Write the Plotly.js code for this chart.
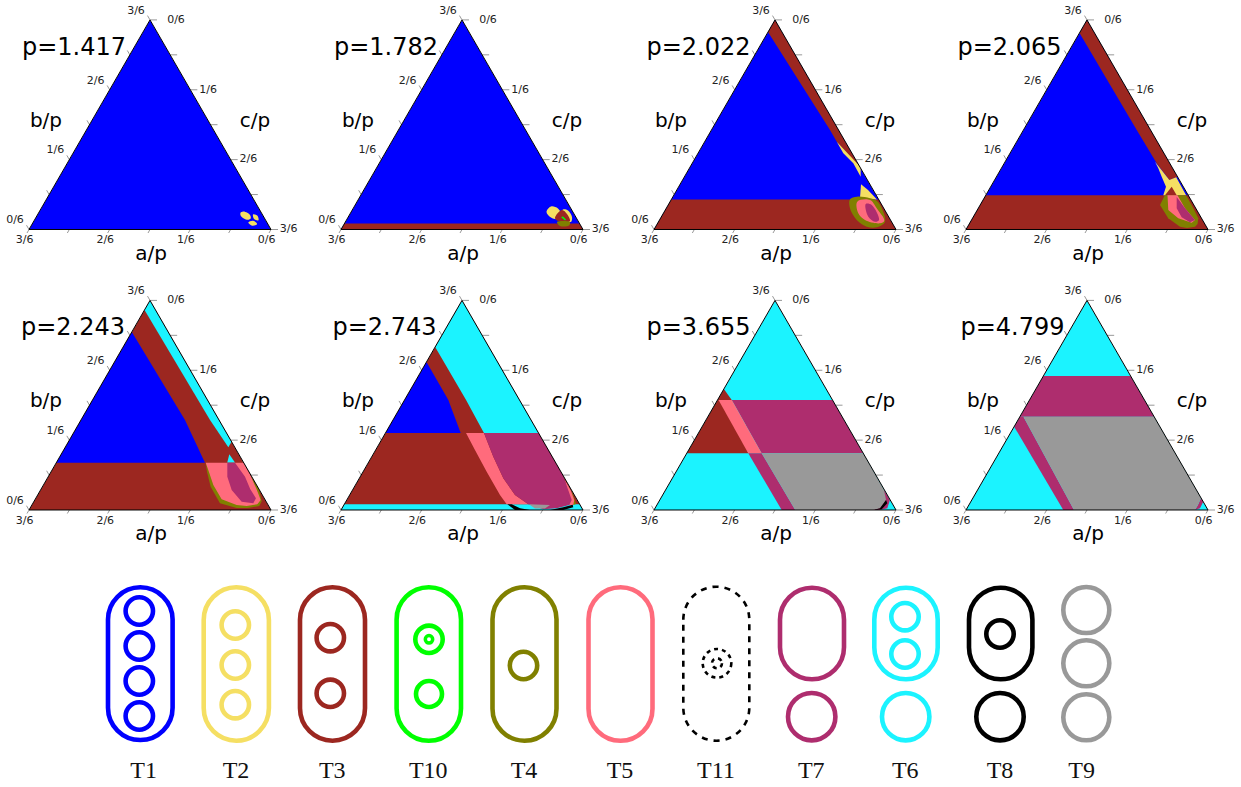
<!DOCTYPE html>
<html><head><meta charset="utf-8"><script src="https://cdn.plot.ly/plotly-3.0.1.min.js"></script>
<style>html,body{margin:0;padding:0;background:#fff}</style></head><body><div id="g" style="width:1241px;height:787px"></div>
<script>
// Phase colours
const COL={T1:'#0000ff',T2:'#f5df63',T3:'#9c2720',T10:'#00ff00',T4:'#808000',T5:'#ff6b7c',T11:'#000000',T7:'#ae2d6e',T6:'#1bf3ff',T8:'#000000',T9:'#999999'};
// Panel labels
const pLabels=['p=1.417','p=1.782','p=2.022','p=2.065','p=2.243','p=2.743','p=3.655','p=4.799'];
const tickVals=[0,1/12,2/12,3/12,4/12,5/12,6/12];
const tickText=['0/6','','1/6','','2/6','','3/6'];
// Regions as [b/p, c/p] vertices
const FULL=[[.5,0],[0,0],[0,.5],[.5,0]];
const P1_E1=[[.026,.445],[.033,.441],[.040,.431],[.043,.421],[.040,.417],[.033,.421],[.026,.431],[.023,.441],[.026,.445]];
const P1_E2=[[.022,.463],[.033,.4555],[.036,.445],[.025,.4525],[.022,.463]];
const P1_E3=[[.0129,.4649],[.0207,.4528],[.0167,.4447],[.0089,.4568],[.0129,.4649]];
const P2_STRIP=[[0,0],[.0145,0],[.0145,.4855],[0,.5],[0,0]];
const P2_Y1=[[.0549,.4065],[.0501,.4232],[.037,.436],[.0251,.4358],[.0286,.4196],[.0418,.4037],[.0549,.4065]];
const P2_Y2=[[.0477,.4348],[.0454,.4463],[.0298,.4624],[.0179,.4662],[.0227,.4536],[.037,.436],[.0477,.4348]];
const P2_BR=[[.0275,.4284],[.0465,.4333],[.037,.4484],[.0203,.463],[.0179,.4559],[.0203,.4382],[.0275,.4284]];
const P2_G=[[.0298,.4396],[.031,.4432],[.0239,.453],[.0215,.4521],[.0298,.4396]];
const P2_OL=[[.0179,.4373],[.0179,.4641],[.0095,.4663],[.0084,.4483],[.0179,.4373]];
const P3_BAND=[[0,0],[.0716,0],[.0716,.4284],[0,.5],[0,0]];
const P3_STRIP=[[.5,0],[.471,0],[.2375,.2449],[.2096,.2728],[.142,.358],[.5,0]];
const P3_Y1=[[.2096,.2728],[.1485,.3528],[.126,.364],[.158,.3328],[.1819,.3002],[.2096,.2728]];
const P3_Y2=[[.1079,.3738],[.0943,.395],[.0716,.4249],[.0752,.388],[.1079,.3738]];
const P3_OL=[[.0721,.3689],[.0783,.3803],[.0745,.4091],[.0656,.43],[.0186,.468],[.0053,.4575],[.0067,.4361],[.0227,.4075],[.0506,.3796],[.0721,.3689]];
const P3_PK=[[.0664,.3868],[.0704,.4111],[.0506,.4348],[.021,.4653],[.0148,.4595],[.0227,.4246],[.0387,.4028],[.0664,.3868]];
const P3_MG=[[.0609,.407],[.0585,.4206],[.0227,.4536],[.0186,.4473],[.0306,.4275],[.0609,.407]];
const P4_BAND=[[0,0],[.0816,0],[.0816,.4184],[0,.5],[0,0]];
const P4_STRIP=[[.5,0],[.469,0],[.2375,.234],[.158,.315],[.1182,.361],[.126,.374],[.5,0]];
const P4_Y=[[.1618,.3096],[.1182,.361],[.1246,.372],[.0816,.414],[.0816,.3668],[.1022,.3621],[.126,.3413],[.1461,.3243],[.1618,.3096]];
const P4_BR=[[.0816,.3703],[.1022,.3739],[.0816,.3945],[.0816,.3703]];
const P4_OL=[[.0816,.37],[.0816,.414],[.05,.445],[.0267,.4665],[.013,.472],[.0067,.4698],[.0035,.455],[.0067,.4388],[.0267,.4045],[.0585,.3716],[.0816,.37]];
const P4_PK=[[.0816,.3755],[.0816,.3962],[.0506,.4272],[.0227,.4618],[.0162,.4582],[.0267,.4252],[.0465,.3947],[.0816,.3755]];
const P4_MG=[[.0776,.3965],[.0506,.4272],[.0227,.4618],[.0172,.4542],[.0291,.431],[.0506,.41],[.0776,.3965]];
const P5_BLUE=[[.4249,0],[.2148,.2149],[.1129,.3071],[.1129,0],[.4249,0]];
const P5_CY1=[[.5,0],[.4774,0],[.2148,.2666],[.1497,.337],[.163,.337],[.5,0]];
const P5_CY2=[[.133,.3473],[.1134,.3689],[.1134,.353],[.133,.3473]];
const P5_OL=[[.1129,.3087],[.0795,.419],[.05,.4495],[.0215,.4701],[.0095,.471],[.005,.45],[.0048,.4267],[.016,.3866],[.0556,.3476],[.09,.323],[.1129,.3087]];
const P5_PK=[[.1129,.3087],[.1129,.3878],[.0795,.419],[.05,.445],[.0239,.4668],[.0136,.4649],[.0095,.445],[.0119,.4231],[.0255,.3853],[.0597,.351],[.09,.327],[.1129,.3087]];
const P5_MG=[[.1129,.3533],[.1129,.3692],[.0795,.4066],[.05,.432],[.0279,.455],[.016,.4554],[.0198,.4295],[.0477,.3949],[.0795,.37],[.1129,.3533]];
const P6_BOT=[[0,0],[.0136,0],[.0136,.4864],[0,.5],[0,0]];
const P6_CY=[[.5,0],[.3891,0],[.2626,.1271],[.1838,.2035],[.1838,.3162],[.5,0]];
const P6_BLUE=[[.3533,0],[.2626,.0905],[.1838,.1554],[.1838,0],[.3533,0]];
const P6_PK=[[.1838,.1664],[.1838,.2035],[.1272,.2511],[.0757,.2975],[.0358,.3416],[.0136,.3802],[.0136,.3355],[.0358,.3106],[.0914,.2553],[.1432,.2052],[.1838,.1664]];
const P6_OL=[[.0461,.4536],[.0143,.4783],[.0119,.4739],[.0461,.4536]];
const P6_PK2=[[.0716,.427],[.0461,.452],[.0239,.47],[.0119,.4739],[.0119,.4657],[.0716,.427]];
const P6_MG=[[.1838,.2035],[.1838,.3162],[.0812,.4188],[.0239,.4647],[.0119,.4657],[.0041,.4436],[.0017,.4172],[.0136,.3802],[.0358,.3416],[.0757,.2975],[.1272,.2511],[.1838,.2035]];
const P6_GR=[[.0136,.3816],[.0119,.4258],[.0036,.4197],[.0036,.399],[.0136,.3816]];
const P6_BK1=[[.0136,.3368],[.0136,.3459],[.0041,.3678],[0,.3905],[0,.3595],[.0136,.3368]];
const P6_BK2=[[0,.4318],[.0064,.4561],[.0127,.4724],[.0064,.4767],[0,.4593],[0,.4318]];
const P7_BR=[[.2888,0],[.2626,.0293],[.1353,.1271],[.1353,0],[.2888,0]];
const P7_PK=[[.2626,.002],[.2626,.0293],[.1353,.1548],[.1353,.1271],[.2626,.002]];
const P7_MG1=[[.2626,.0293],[.2626,.2374],[.1353,.3647],[.1353,.1548],[.2626,.0293]];
const P7_MG2=[[.1353,.1271],[.1353,.1548],[0,.2919],[0,.2638],[.1353,.1271]];
const P7_MG3=[[.0477,.4515],[.0239,.4755],[.0041,.48],[0,.467],[0,.45],[.0477,.4515]];
const P7_GR=[[.1353,.1548],[.1353,.3647],[.0477,.4515],[.0239,.4674],[.0041,.4649],[0,.4531],[0,.2919],[.1353,.1548]];
const P7_BK=[[.0239,.4674],[.016,.474],[.0017,.4696],[0,.4531],[.0041,.4649],[.0239,.4674]];
const P8_BAND=[[.3198,0],[.3198,.1802],[.2227,.2773],[.2227,0],[.3198,0]];
const P8_STRIP=[[.2227,0],[.2227,.0074],[0,.2231],[0,.201],[.1988,0],[.2227,0]];
const P8_GR=[[.2227,.0074],[.2227,.2773],[.0286,.4714],[.0119,.4733],[0,.4731],[0,.2231],[.2227,.0074]];
const P8_MG=[[.0286,.4714],[.0198,.4802],[.0041,.4815],[0,.473],[.0119,.4733],[.0286,.4714]];
// Panel stacks: [phase, vertices, smooth]
const panels=[
 [['T1',FULL],['T2',P1_E1,1],['T2',P1_E2,1],['T2',P1_E3,1]],
 [['T1',FULL],['T3',P2_STRIP],['T2',P2_Y1,1],['T2',P2_Y2,1],['T3',P2_BR,1],['T4',P2_OL,1],['T10',P2_G]],
 [['T1',FULL],['T3',P3_BAND],['T3',P3_STRIP],['T2',P3_Y1],['T2',P3_Y2],['T4',P3_OL,1],['T5',P3_PK,1],['T7',P3_MG,1]],
 [['T1',FULL],['T3',P4_BAND],['T3',P4_STRIP],['T2',P4_Y],['T3',P4_BR],['T4',P4_OL],['T5',P4_PK],['T7',P4_MG]],
 [['T3',FULL],['T1',P5_BLUE],['T6',P5_CY1],['T4',P5_OL],['T5',P5_PK],['T6',P5_CY2],['T7',P5_MG]],
 [['T3',FULL],['T6',P6_BOT],['T6',P6_CY],['T1',P6_BLUE],['T5',P6_PK],['T4',P6_OL],['T5',P6_PK2],['T7',P6_MG],['T9',P6_GR],['T8',P6_BK1],['T8',P6_BK2]],
 [['T6',FULL],['T3',P7_BR],['T7',P7_MG1],['T5',P7_PK],['T7',P7_MG2],['T7',P7_MG3],['T9',P7_GR],['T8',P7_BK]],
 [['T6',FULL],['T7',P8_BAND],['T7',P8_STRIP],['T7',P8_MG],['T9',P8_GR]]
];
// Triangle frames in page pixels: left, bottom
const frameL=[29,341,654,966,29,341,654,966];
const frameB=[229.5,229.5,229.5,229.5,510,510,510,510];
const triW=242,triH=209.6;
// Text positions
const pLabelX=[74,386,698.5,1009.5,73,384.5,698.5,1012.5];
const pLabelY=[48.5,48.5,48.5,48.5,328.5,328.5,328.5,328.5];
const axNames=['a/p','b/p','c/p'];
const axDX=[122,17,226], axDY=[25,-108,-108];
// Tick vectors and label offsets in pixels
const tickLeft=[-2.5,-4.3],tickRight=[7,0],tickBottom=[-2,3.5];
const lblLeft=[-14,-9],lblRight=[17.7,0],lblRightTop=[26,0],lblBottom=[-4.4,11];
// Legend glyphs
const legNames=['T1','T2','T3','T10','T4','T5','T11','T7','T6','T8','T9'];
const legNameX=[143.7,236,332.3,428.3,524,620,716,811.3,905.3,1000,1081.7];
const legStadium=[ // phase, cx, halfWidth, top, bottom
 ['T1',140.3,32.3,587.3,740],['T2',236.3,32.6,587.3,740.7],['T3',332.5,32.5,587.3,740.7],['T10',428.8,32.2,587.3,740.7],
 ['T4',524.5,32,587.3,740.7],['T5',620.5,32,587.3,740.7],['T11',716.3,33,586.7,740.7],
 ['T7',812,32,587.7,679.3],['T6',906,31.7,587.7,679.3],['T8',1000.7,31.7,587.7,679.3]];
const legCircle=[ // phase, cx, cy, r
 ['T1',139.3,611,13.7],['T1',139.3,646,13.7],['T1',139.3,681,13.7],['T1',139.3,716,13.7],
 ['T2',235.3,625,13.7],['T2',235.3,665,13.7],['T2',235.3,704.7,13.7],
 ['T3',330.3,637.7,13.7],['T3',330.3,693.3,13.7],
 ['T10',429,639.3,13.7],['T10',429,639.3,3.7],['T10',429,694,13],
 ['T4',523.5,665.5,13.7],
 ['T11',717,663.3,14.3],['T11',717,663.3,5],
 ['T7',811.7,716.7,23.7],
 ['T6',905,616.7,13.7],['T6',905,654,13.7],['T6',905.7,716.7,23.7],
 ['T8',1000,634,13.7],['T8',1000,716.7,23.7],
 ['T9',1086.3,610,23],['T9',1086.3,663.3,23],['T9',1086.3,717.3,23]];

const PW=1241,PH=787;
const traces=[],layout={width:PW,height:PH,margin:{l:0,r:0,t:0,b:0},showlegend:false,paper_bgcolor:'#fff',plot_bgcolor:'rgba(0,0,0,0)',
 xaxis:{visible:false,range:[0,PW],domain:[0,1],fixedrange:true},yaxis:{visible:false,range:[PH,0],domain:[0,1],fixedrange:true},shapes:[]};
const axisStyle={title:{text:''},min:0,tickmode:'array',tickvals:tickVals,ticktext:tickText,ticks:'',showticklabels:false,showgrid:false,showline:true,linecolor:'#000',linewidth:1};
const tx=[],ty=[],lx=[],ly=[],lt=[];
panels.forEach((stack,i)=>{
  const id=i?'ternary'+(i+1):'ternary';
  const L=frameL[i],B=frameB[i];
  layout[id]={sum:.5,bgcolor:'rgba(0,0,0,0)',
    domain:{x:[L/PW,(L+triW)/PW],y:[1-B/PH,1-(B-triH)/PH]},
    aaxis:axisStyle,baxis:axisStyle,caxis:axisStyle};
  stack.forEach(([ph,pts,sm])=>traces.push({type:'scatterternary',subplot:id,mode:'lines',
    a:pts.map(p=>p[0]),c:pts.map(p=>p[1]),b:pts.map(p=>.5-p[0]-p[1]),
    fill:'toself',fillcolor:COL[ph],line:{width:0,color:COL[ph],shape:sm?'spline':'linear',smoothing:1},hoverinfo:'skip'}));
  // page position of a ternary point, for ticks drawn outside the triangle
  const X=(b,c)=>L+triW*2*(c+b/2), Y=(b)=>B-triH*2*b;
  tickVals.forEach((k,j)=>{
    const add=(x,y,v,o)=>{tx.push(x,x+v[0],null);ty.push(y,y+v[1],null);
      if(tickText[j]){lx.push(x+o[0]);ly.push(y+o[1]);lt.push(tickText[j]);}};
    add(X(k,0),Y(k),tickLeft,lblLeft);                                  // b/p, left edge
    add(X(.5-k,k),Y(.5-k),tickRight,k===0?lblRightTop:lblRight);        // c/p, right edge
    add(X(0,.5-k),Y(0),tickBottom,lblBottom);                           // a/p, bottom edge
  });
});
traces.push({type:'scatter',mode:'lines',x:tx,y:ty,line:{color:'#999',width:1},hoverinfo:'skip',cliponaxis:false});
traces.push({type:'scatter',mode:'text',x:lx,y:ly,text:lt,textposition:'middle center',textfont:{family:'DejaVu Sans',size:11,color:'#222'},hoverinfo:'skip',cliponaxis:false});
// Text traces
traces.push({type:'scatter',mode:'text',x:pLabelX,y:pLabelY,text:pLabels,textposition:'middle center',textfont:{family:'DejaVu Sans',size:24,color:'#000'},hoverinfo:'skip',cliponaxis:false});
const ax=[],ay=[],at=[];
frameL.forEach((l,i)=>axNames.forEach((n,k)=>{ax.push(l+axDX[k]);ay.push(frameB[i]+axDY[k]);at.push(n);}));
traces.push({type:'scatter',mode:'text',x:ax,y:ay,text:at,textposition:'middle center',textfont:{family:'DejaVu Sans',size:20,color:'#000'},hoverinfo:'skip',cliponaxis:false});
traces.push({type:'scatter',mode:'text',x:legNameX,y:legNames.map(()=>771.5),text:legNames,textposition:'middle center',textfont:{family:'Liberation Serif',size:24,color:'#111'},hoverinfo:'skip',cliponaxis:false});
// Legend shapes
const isDash=ph=>ph==='T11';
legStadium.forEach(([ph,cx,hw,top,bot])=>{
  const k=.5523*hw,l=cx-hw,r=cx+hw,t=top+hw,b=bot-hw;
  layout.shapes.push({type:'path',xref:'x',yref:'y',path:`M${l},${t} C${l},${t-k} ${cx-k},${top} ${cx},${top} C${cx+k},${top} ${r},${t-k} ${r},${t} L${r},${b} C${r},${b+k} ${cx+k},${bot} ${cx},${bot} C${cx-k},${bot} ${l},${b+k} ${l},${b} Z`,
    line:{color:COL[ph],width:isDash(ph)?2.6:4.6,dash:isDash(ph)?'6px,6px':'solid'}});
});
legCircle.forEach(([ph,cx,cy,r])=>layout.shapes.push({type:'circle',xref:'x',yref:'y',x0:cx-r,x1:cx+r,y0:cy-r,y1:cy+r,
  line:{color:COL[ph],width:isDash(ph)?2.6:(r<5?3.5:4.6),dash:isDash(ph)?'4px,4px':'solid'}}));
Plotly.newPlot('g',traces,layout,{displayModeBar:false,staticPlot:true});
</script></body></html>
